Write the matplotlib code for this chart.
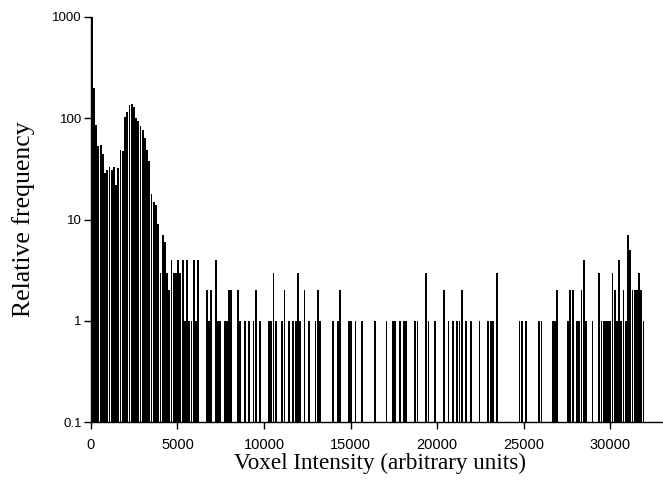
import matplotlib
matplotlib.use('Agg')
import matplotlib.pyplot as plt
import numpy as np

# histogram of voxel intensities, 128-wide bins starting at 0
bin_width = 128
counts = [
    1000, 200, 85, 53, 54, 44, 29, 31, 33, 31,
    33, 22, 32, 49, 47, 103, 115, 134, 137, 129,
    100, 94, 84, 76, 64, 48, 38, 18, 15, 14,
    9, 3, 7, 6, 3, 2, 4, 3, 3, 4,
    3, 4, 1, 4, 1, 1, 4, 1, 4, 0,
    0, 0, 2, 1, 2, 0, 4, 1, 1, 0,
    1, 1, 2, 2, 0, 0, 2, 1, 0, 1,
    0, 1, 0, 1, 2, 0, 1, 0, 0, 0,
    1, 1, 3, 1, 0, 0, 1, 2, 0, 1,
    0, 1, 1, 3, 1, 0, 2, 0, 1, 0,
    0, 1, 2, 1, 0, 0, 0, 0, 0, 1,
    0, 1, 2, 0, 0, 0, 1, 1, 0, 1,
    0, 0, 1, 0, 0, 0, 0, 0, 1, 0,
    0, 0, 0, 1, 0, 0, 1, 1, 0, 1,
    0, 1, 1, 0, 0, 0, 1, 1, 0, 0,
    0, 3, 1, 0, 0, 1, 0, 0, 0, 2,
    0, 1, 0, 1, 0, 1, 1, 2, 0, 1,
    0, 1, 0, 0, 0, 1, 0, 0, 0, 1,
    1, 1, 0, 3, 0, 0, 0, 0, 0, 0,
    0, 0, 0, 1, 1, 0, 1, 0, 0, 0,
    0, 0, 1, 1, 0, 0, 0, 0, 1, 1,
    2, 0, 0, 0, 0, 1, 2, 2, 0, 1,
    1, 2, 4, 1, 0, 0, 1, 0, 0, 3,
    1, 1, 1, 1, 1, 3, 2, 1, 4, 1,
    2, 1, 7, 5, 2, 2, 2, 3, 2, 1,
]

x_ticks = [0, 5000, 10000, 15000, 20000, 25000, 30000]
y_ticks = [0.1, 1, 10, 100, 1000]
y_ticklabels = ['0.1', '1', '10', '100', '1000']

counts = np.array(counts, dtype=float)
edges = np.arange(len(counts)) * bin_width
keep = counts > 0

fig = plt.figure(figsize=(6.63, 4.90), dpi=100)
ax = fig.add_axes([0.137, 0.138, 0.863, 0.828])

ax.bar(edges[keep], counts[keep], width=bin_width * 0.82, align='edge',
       color='black', linewidth=0, log=True)

ax.set_yscale('log')
ax.set_ylim(0.1, 1000)
ax.set_xlim(0, 33050)
ax.set_yticks(y_ticks)
ax.set_yticklabels(y_ticklabels)
ax.yaxis.set_minor_locator(matplotlib.ticker.NullLocator())
ax.set_xticks(x_ticks)
ax.set_xticklabels([str(t) for t in x_ticks])

for lab in ax.get_xticklabels():
    lab.set_family('Liberation Sans')
    lab.set_fontsize(10.5)
for lab in ax.get_yticklabels():
    lab.set_family('Liberation Sans')
    lab.set_fontsize(9.5)

ax.tick_params(direction='out', length=5, width=1, colors='black')
ax.tick_params(axis='y', pad=1.5)
ax.tick_params(axis='x', pad=6)
ax.spines['top'].set_visible(False)
ax.spines['right'].set_visible(False)
ax.spines['left'].set_linewidth(1)
ax.spines['bottom'].set_linewidth(1)

ax.set_xlabel('Voxel Intensity (arbitrary units)', family='Liberation Serif', fontsize=16.7)
ax.set_ylabel('Relative frequency', family='Liberation Serif', fontsize=18.5)
ax.xaxis.set_label_coords(0.505, -0.076)
ax.yaxis.set_label_coords(-0.098, 0.5)

fig.savefig('out.png', dpi=100)
